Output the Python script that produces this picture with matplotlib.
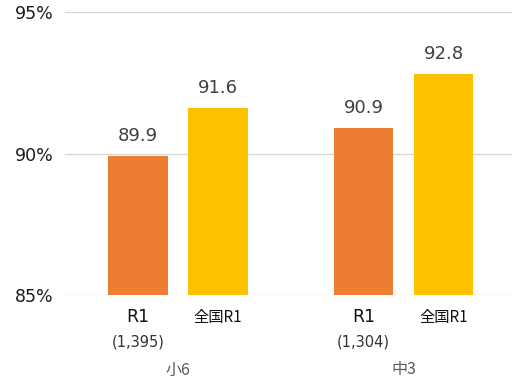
import numpy as np
import matplotlib
matplotlib.use('Agg')
import matplotlib.pyplot as plt
from matplotlib.ticker import FuncFormatter
import matplotlib.transforms as mtransforms

plt.rcParams['font.family'] = ['DejaVu Sans', 'Noto Sans CJK JP']

# data
groups = ['小6', '中3']
local_labels = ['R1\n(1,395)', 'R1\n(1,304)']
national_label = '全国R1'
local_vals = [89.9, 90.9]
national_vals = [91.6, 92.8]

orange = '#ED7D31'
yellow = '#FFC000'

fig = plt.figure(figsize=(5.15, 3.8), dpi=100)
ax = fig.add_axes([0.126, 0.2237, 0.868, 0.7447])

x = np.arange(len(groups))
off = 0.177
w = 0.265
ax.bar(x - off, np.array(local_vals) - 85, w, bottom=85, color=orange, zorder=3)
ax.bar(x + off, np.array(national_vals) - 85, w, bottom=85, color=yellow, zorder=3)

# value labels above the bars
for xs, vals in ((x - off, local_vals), (x + off, national_vals)):
    for xi, v in zip(xs, vals):
        ax.text(xi, v + 0.4, f'{v:.1f}', ha='center', va='bottom',
                fontsize=13, color='#404040')

ax.set_ylim(85, 95)
ax.set_xlim(-0.5, 1.48)
ax.set_yticks([85, 90, 95])
ax.yaxis.set_major_formatter(FuncFormatter(lambda v, p: f'{v:.0f}%'))
ax.grid(axis='y', color='#D9D9D9', linewidth=1, zorder=0)
for s in ax.spines.values():
    s.set_visible(False)
ax.tick_params(axis='y', length=0, labelsize=12.5, colors='#1a1a1a', pad=8)
ax.set_xticks([])

# category labels under the bars
trans = mtransforms.blended_transform_factory(ax.transData, ax.transAxes)
for i in range(len(groups)):
    first, second = local_labels[i].split('\n')
    ax.text(x[i] - off, -0.045, first, transform=trans, ha='center', va='top',
            fontsize=12.5, color='#111111')
    ax.text(x[i] - off, -0.14, second, transform=trans, ha='center', va='top',
            fontsize=10.5, color='#333333')
    ax.text(x[i] + off, -0.05, national_label, transform=trans, ha='center',
            va='top', fontsize=11, color='#111111',
            family=['Noto Sans CJK JP', 'DejaVu Sans'])
    ax.text(x[i], -0.235, groups[i], transform=trans, ha='center', va='top',
            fontsize=11.5, color='#595959',
            family=['Noto Sans CJK JP', 'DejaVu Sans'])

fig.savefig('out.png', dpi=100)
